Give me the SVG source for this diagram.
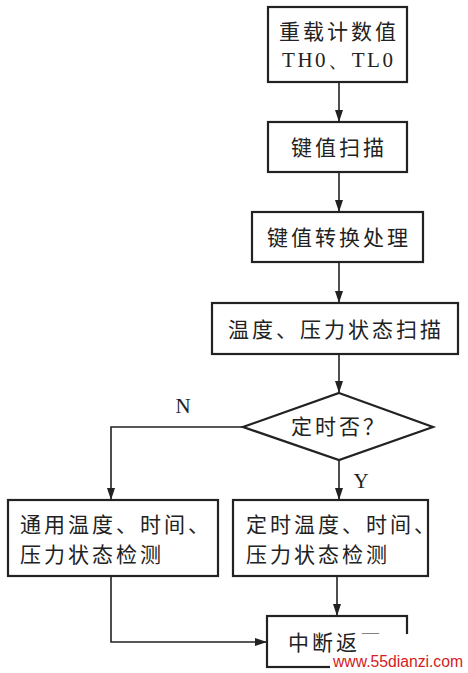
<svg xmlns="http://www.w3.org/2000/svg" width="468" height="673" viewBox="0 0 468 673">
<style>
.box{fill:#fff;stroke:#222;stroke-width:2.2}
.cn{font-family:"Noto Sans CJK SC","Noto Sans",sans-serif;font-size:21px;fill:#222;letter-spacing:3px}
.lat{font-family:"Liberation Serif",serif;font-size:21px;fill:#222}
.ln{fill:none;stroke:#222;stroke-width:1.6}
.wm{font-family:"Liberation Sans",Arial,sans-serif;font-size:16px;fill:#d42020}
</style>
<defs>
<marker id="ah" viewBox="0 0 12 8" refX="12" refY="4" markerWidth="12" markerHeight="8" markerUnits="userSpaceOnUse" orient="auto">
<path d="M0,0 L12,4 L0,8 Z" fill="#222"/>
</marker>
</defs>
<rect width="468" height="673" fill="#fff"/>
<g id="connectors">
<line class="ln" x1="339" y1="82" x2="339" y2="122" marker-end="url(#ah)"/>
<line class="ln" x1="339" y1="172" x2="339" y2="212" marker-end="url(#ah)"/>
<line class="ln" x1="339" y1="262" x2="339" y2="303" marker-end="url(#ah)"/>
<line class="ln" x1="339" y1="354" x2="339" y2="393" marker-end="url(#ah)"/>
<line class="ln" x1="339" y1="460" x2="339" y2="500" marker-end="url(#ah)"/>
<polyline class="ln" points="243,427 111,427 111,500" marker-end="url(#ah)"/>
<line class="ln" x1="337" y1="576" x2="337" y2="616" marker-end="url(#ah)"/>
<polyline class="ln" points="111,576 111,642 267,642" marker-end="url(#ah)"/>
<text class="lat" x="183" y="413" text-anchor="middle">N</text>
<text class="lat" x="361" y="488" text-anchor="middle">Y</text>
</g>
<g id="n1">
<rect class="box" x="268" y="7" width="139" height="75"/>
<text class="cn" x="339" y="39" text-anchor="middle">重载计数值</text>
<text class="lat" x="282" y="67" font-size="23" textLength="111" lengthAdjust="spacing">TH0、TL0</text>
</g>
<g id="n2">
<rect class="box" x="268" y="122" width="139" height="50"/>
<text class="cn" x="339" y="155" text-anchor="middle">键值扫描</text>
</g>
<g id="n3">
<rect class="box" x="252" y="212" width="171" height="50"/>
<text class="cn" x="339" y="245" text-anchor="middle">键值转换处理</text>
</g>
<g id="n4">
<rect class="box" x="212" y="303" width="246" height="51"/>
<text class="cn" x="336" y="337" text-anchor="middle">温度、压力状态扫描</text>
</g>
<g id="n5">
<polygon class="box" points="339,393 433,427 339,460 243,427"/>
<text class="cn" x="339" y="434" text-anchor="middle">定时否？</text>
</g>
<g id="n6">
<rect class="box" x="8" y="500" width="210" height="76"/>
<text class="cn" x="20" y="532">通用温度、时间、</text>
<text class="cn" x="20" y="562">压力状态检测</text>
</g>
<g id="n7">
<rect class="box" x="233" y="500" width="195" height="76"/>
<text class="cn" x="246" y="532">定时温度、时间、</text>
<text class="cn" x="246" y="562">压力状态检测</text>
</g>
<g id="n8">
<rect class="box" x="267" y="616" width="140" height="51"/>
<text class="cn" x="288" y="650">中断返回</text>
</g>
<g id="watermark">
<rect x="358" y="634" width="110" height="39" fill="#fff"/>
<rect x="330" y="652" width="138" height="21" fill="#fff"/>
<text class="wm" x="333" y="667" textLength="130" lengthAdjust="spacingAndGlyphs">www.55dianzi.com</text>
</g>
</svg>
